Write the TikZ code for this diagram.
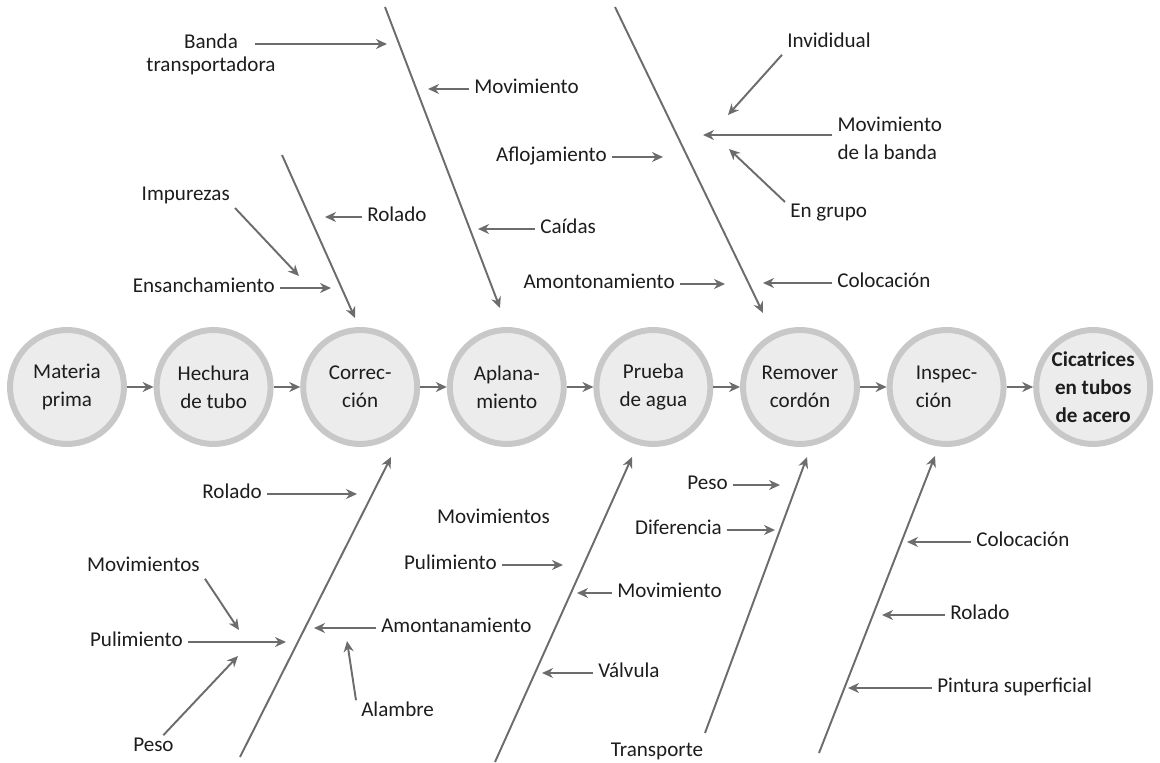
\documentclass[tikz,border=0pt]{standalone}
\usepackage{fontspec}
\setmainfont{Carlito}
\usetikzlibrary{arrows.meta,positioning}

\definecolor{bonegray}{RGB}{108,108,108}
\definecolor{ringgray}{RGB}{200,200,200}
\definecolor{stagefill}{RGB}{236,236,236}
\definecolor{inkgray}{RGB}{30,28,28}

\begin{document}
\begin{tikzpicture}[
    x=0.02cm, y=-0.02cm,
    font=\fontsize{12}{16}\selectfont,
    stage/.style={circle, draw=ringgray, line width=0.12cm, fill=stagefill, minimum size=2.28cm, inner sep=0pt, align=center, text=inkgray},
    cause/.style={inner xsep=3pt, inner ysep=2pt, outer sep=0pt, text height=0.7em, text depth=0.24em, text=inkgray},
    arrow/.style={-{Stealth[length=2.2mm, width=2mm]}, draw=bonegray, line width=1.1pt},
]
\useasboundingbox (0,0) rectangle (1160,763);

% ====== Process chain ======
\node[stage] (prima) at (67,387) {Materia\\prima};
\node[stage] (hechura) at (213.6,387) {Hechura\\de tubo};
\node[stage] (correc) at (360.2,387) {Correc-\\ción};
\node[stage] (aplana) at (506.8,387) {Aplana-\\miento};
\node[stage] (agua) at (653.4,387) {Prueba\\de agua};
\node[stage] (cordon) at (800,387) {Remover\\cordón};
\node[stage, align=left] (inspec) at (946.6,387) {Inspec-\\ción};
\node[stage, font=\fontsize{12}{16}\selectfont\bfseries] (efecto) at (1093.2,387) {Cicatrices\\en tubos\\de acero};

\draw[arrow] (prima) -- (hechura);
\draw[arrow] (hechura) -- (correc);
\draw[arrow] (correc) -- (aplana);
\draw[arrow] (aplana) -- (agua);
\draw[arrow] (agua) -- (cordon);
\draw[arrow] (cordon) -- (inspec);
\draw[arrow] (inspec) -- (efecto);

% ====== Upper bone: Corrección ======
\coordinate (correcUpS) at (282,155);
\coordinate (correcUpE) at (355,318);
\draw[arrow] (correcUpS) -- (correcUpE);

\node[cause, anchor=west] (roladoA) at (362,217) {Rolado};
\coordinate (roladoAT) at (325,217);
\draw[arrow] (roladoA) -- (roladoAT);

\node[cause, anchor=south east] (impurezas) at (235,208) {Impurezas};
\coordinate (impurezasT) at (299,276);
\draw[arrow] (impurezas.south east) -- (impurezasT);

\node[cause, anchor=east] (ensancha) at (280,288) {Ensanchamiento};
\coordinate (ensanchaT) at (331,288);
\draw[arrow] (ensancha) -- (ensanchaT);

% ====== Upper bone: Aplanamiento ======
\coordinate (aplanaUpS) at (385,7);
\coordinate (aplanaUpE) at (500,308);
\draw[arrow] (aplanaUpS) -- (aplanaUpE);

\node[cause, inner xsep=9.5pt] (banda) at (211,44) {Banda};
\node[cause, below=0pt of banda] (transp) {transportadora};
\coordinate (bandaT) at (387,44);
\draw[arrow] (banda) -- (bandaT);

\node[cause, anchor=west] (movA) at (469,89) {Movimiento};
\coordinate (movAT) at (428,89);
\draw[arrow] (movA) -- (movAT);

\node[cause, anchor=west] (caidas) at (535,229) {Caídas};
\coordinate (caidasT) at (478,229);
\draw[arrow] (caidas) -- (caidasT);

\node[cause, anchor=east] (afloja) at (612,157) {Aflojamiento};
\coordinate (aflojaT) at (663,157);
\draw[arrow] (afloja) -- (aflojaT);

\node[cause, anchor=east] (amontonA) at (680,284) {Amontonamiento};
\coordinate (amontonAT) at (725,284);
\draw[arrow] (amontonA) -- (amontonAT);

% ====== Upper bone: Remover cordón ======
\coordinate (cordonUpS) at (615,7);
\coordinate (cordonUpE) at (763,313);
\draw[arrow] (cordonUpS) -- (cordonUpE);

\node[cause, anchor=west] (indiv) at (782,43) {Invididual};
\coordinate (indivT) at (728,115);
\draw[arrow] (indiv.south west) -- (indivT);

\node[text=inkgray, anchor=west, align=left, inner xsep=3pt] (movbanda) at (832,138) {Movimiento\\de la banda};
\coordinate (movbandaT) at (703,135);
\draw[arrow] (movbanda.west |- movbandaT) -- (movbandaT);

\node[cause, anchor=north west] (engrupo) at (785,202) {En grupo};
\coordinate (engrupoT) at (729,149);
\draw[arrow] (engrupo.north west) -- (engrupoT);

\node[cause, anchor=west] (colocA) at (832,283) {Colocación};
\coordinate (colocAT) at (763,283);
\draw[arrow] (colocA) -- (colocAT);

% ====== Lower bone: Corrección ======
\coordinate (correcLoS) at (240,757);
\coordinate (correcLoE) at (391,457);
\draw[arrow] (correcLoS) -- (correcLoE);

\node[cause, anchor=east] (roladoB) at (267,494) {Rolado};
\coordinate (roladoBT) at (357,494);
\draw[arrow] (roladoB) -- (roladoBT);

\node[cause, anchor=east] (movsA) at (205,567) {Movimientos};
\coordinate (movsAT) at (239,630);
\draw[arrow] (movsA.south east) -- (movsAT);

\node[cause, anchor=east] (pulimA) at (188,642) {Pulimiento};
\coordinate (pulimAT) at (286,642);
\draw[arrow] (pulimA) -- (pulimAT);

\node[cause, anchor=west] (pesoA) at (128,747) {Peso};
\coordinate (pesoAT) at (238,656);
\draw[arrow] (pesoA.50) -- (pesoAT);

\node[cause, anchor=west] (amontanam) at (376,628) {Amontanamiento};
\coordinate (amontanamT) at (314,628);
\draw[arrow] (amontanam) -- (amontanamT);

\node[cause, anchor=west] (alambre) at (356,712) {Alambre};
\coordinate (alambreT) at (347,641);
\draw[arrow] (alambre.north west) -- (alambreT);

% ====== Lower bone: Prueba de agua ======
\coordinate (aguaLoS) at (495,762);
\coordinate (aguaLoE) at (632,457);
\draw[arrow] (aguaLoS) -- (aguaLoE);

\node[cause] (movsB) at (493.5,519) {Movimientos};

\node[cause, anchor=east] (pulimB) at (502,565) {Pulimiento};
\coordinate (pulimBT) at (563,565);
\draw[arrow] (pulimB) -- (pulimBT);

\node[cause, anchor=west] (movB) at (612,593) {Movimiento};
\coordinate (movBT) at (577,593);
\draw[arrow] (movB) -- (movBT);

\node[cause, anchor=west] (valvula) at (593,673) {Válvula};
\coordinate (valvulaT) at (542,673);
\draw[arrow] (valvula) -- (valvulaT);

% ====== Lower bone: Remover cordón ======
\coordinate (cordonLoS) at (705,733);
\coordinate (cordonLoE) at (807,457);
\draw[arrow] (cordonLoS) -- (cordonLoE);

\node[cause, anchor=east] (pesoB) at (733,485) {Peso};
\coordinate (pesoBT) at (780,485);
\draw[arrow] (pesoB) -- (pesoBT);

\node[cause, anchor=east] (difer) at (727,530) {Diferencia};
\coordinate (diferT) at (775,530);
\draw[arrow] (difer) -- (diferT);

\node[cause] (transporte) at (657,752) {Transporte};

% ====== Lower bone: Inspección ======
\coordinate (inspecLoS) at (819,753);
\coordinate (inspecLoE) at (935,456);
\draw[arrow] (inspecLoS) -- (inspecLoE);

\node[cause, anchor=west] (colocB) at (971,542) {Colocación};
\coordinate (colocBT) at (907,542);
\draw[arrow] (colocB) -- (colocBT);

\node[cause, anchor=west] (roladoC) at (945,615) {Rolado};
\coordinate (roladoCT) at (882,615);
\draw[arrow] (roladoC) -- (roladoCT);

\node[cause, anchor=west] (pintura) at (932,688) {Pintura superficial};
\coordinate (pinturaT) at (848,688);
\draw[arrow] (pintura) -- (pinturaT);

\end{tikzpicture}
\end{document}
